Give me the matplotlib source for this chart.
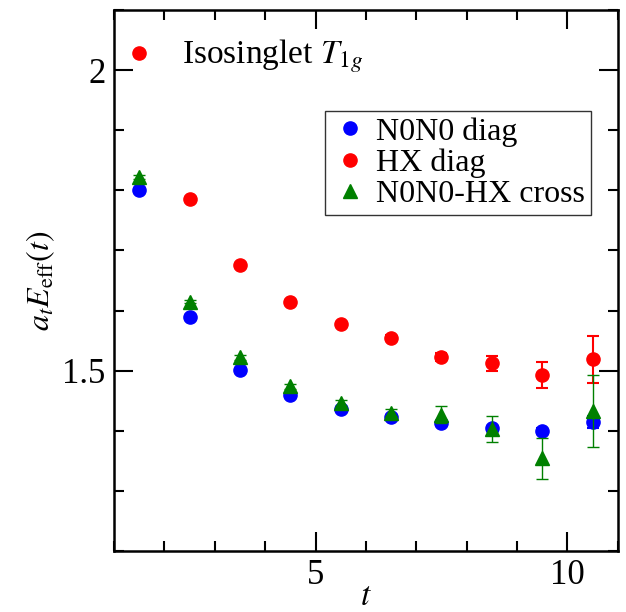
import matplotlib
matplotlib.use('Agg')
import matplotlib.pyplot as plt
from matplotlib.ticker import MultipleLocator
from matplotlib.lines import Line2D

plt.rcParams['font.family'] = ['Liberation Serif', 'DejaVu Serif']
plt.rcParams['mathtext.fontset'] = 'stix'

# time slices
t = [1.5, 2.5, 3.5, 4.5, 5.5, 6.5, 7.5, 8.5, 9.5, 10.5]

# N0N0 diag
n0n0 = [1.800, 1.590, 1.501, 1.460, 1.436, 1.423, 1.413, 1.404, 1.399, 1.415]
n0n0_err = [0.002, 0.002, 0.002, 0.002, 0.002, 0.003, 0.003, 0.004, 0.005, 0.010]

# HX diag
hx = [2.028, 1.786, 1.675, 1.614, 1.577, 1.555, 1.523, 1.512, 1.493, 1.519]
hx_err = [0.002, 0.002, 0.002, 0.003, 0.003, 0.004, 0.007, 0.013, 0.022, 0.039]

# N0N0-HX cross
cross = [1.822, 1.615, 1.522, 1.474, 1.447, 1.430, 1.427, 1.403, 1.354, 1.433]
cross_err = [0.003, 0.003, 0.004, 0.004, 0.005, 0.006, 0.014, 0.021, 0.034, 0.060]

labels = ['N0N0 diag', 'HX diag', 'N0N0-HX cross']

fig = plt.figure(figsize=(6.26, 6.12), dpi=100)
ax = fig.add_axes([0.182, 0.0997, 0.805, 0.884])

ax.errorbar(t, n0n0, yerr=n0n0_err, fmt='o', color='blue', ms=9.5,
            capsize=4.5, elinewidth=1.5, capthick=1.5, zorder=3)
ax.errorbar(t, hx, yerr=hx_err, fmt='o', color='red', ms=9.5,
            capsize=4.5, elinewidth=1.5, capthick=1.5, zorder=3)
ax.errorbar(t, cross, yerr=cross_err, fmt='^', color='green', ms=10,
            capsize=4.5, elinewidth=1.0, capthick=1.0, zorder=4)

ax.set_xlim(1, 11)
ax.set_ylim(1.2, 2.1)
ax.xaxis.set_major_locator(MultipleLocator(5))
ax.xaxis.set_minor_locator(MultipleLocator(1))
ax.yaxis.set_minor_locator(MultipleLocator(0.1))
ax.set_yticks([1.5, 2.0])
ax.set_yticklabels(['1.5', '2'])

ax.tick_params(which='both', direction='in', top=True, right=True, labelsize=25, width=1.5)
ax.tick_params(which='major', length=14, pad=6)
ax.tick_params(which='minor', length=7)
for s in ax.spines.values():
    s.set_linewidth(1.8)

ax.set_xlabel('$t$', fontsize=24, labelpad=-8)
ax.set_ylabel(r'$a_tE_{\rm eff}(t)$', fontsize=23, labelpad=4)

ax.text(0.135, 0.915, r'Isosinglet $T_{\mathit{1g}}$', transform=ax.transAxes, fontsize=24,
        ha='left', va='center')

handles = [Line2D([], [], ls='none', marker='o', color='blue', ms=9.5),
           Line2D([], [], ls='none', marker='o', color='red', ms=9.5),
           Line2D([], [], ls='none', marker='^', color='green', ms=10)]
leg = ax.legend(handles, labels, loc='upper right', bbox_to_anchor=(0.944, 0.819),
                bbox_transform=fig.transFigure, fontsize=23, frameon=True,
                fancybox=False, edgecolor='black', borderaxespad=0,
                handletextpad=0.2, handlelength=1.2, borderpad=0.2, labelspacing=0.05)
leg.get_frame().set_linewidth(1.0)

fig.savefig('out.png', dpi=100)
